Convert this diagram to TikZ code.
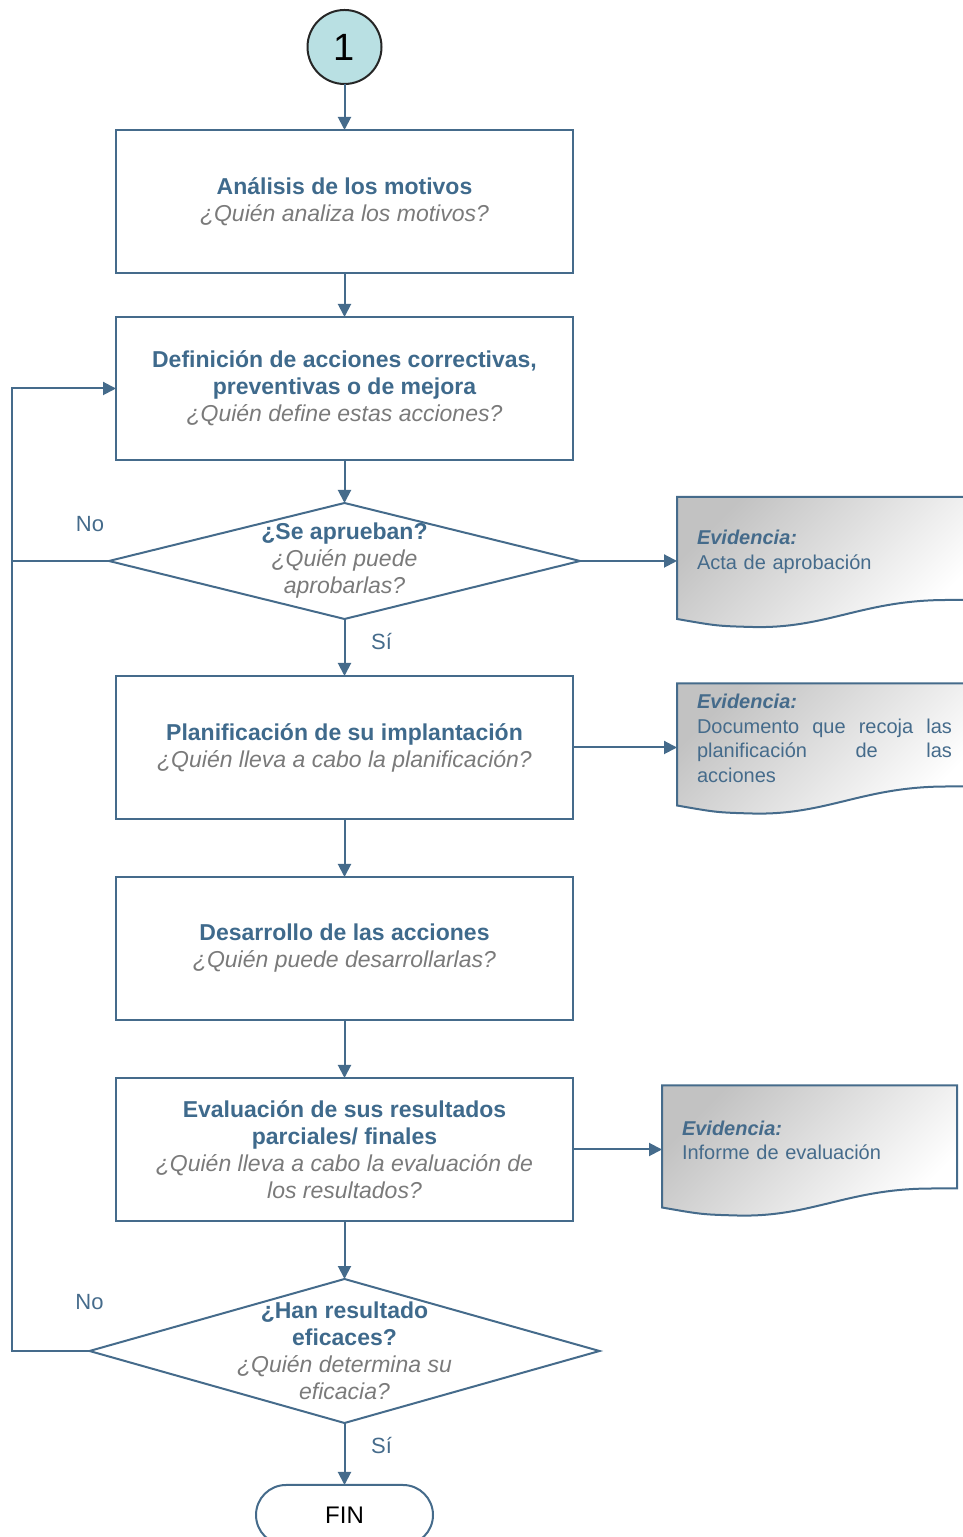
\documentclass[tikz,border=0pt]{standalone}
\usepackage{fontspec}
\setmainfont{Liberation Sans}
\usetikzlibrary{positioning,shapes.geometric,arrows.meta,calc,backgrounds}

\definecolor{lineablue}{HTML}{456B8B}
\definecolor{titblue}{HTML}{3F6A8C}
\definecolor{grisq}{HTML}{7A7A7A}
\definecolor{circfill}{HTML}{B9E0E3}

\newcommand{\tit}[1]{{\color{titblue}\bfseries #1}}
\newcommand{\quien}[1]{{\color{grisq}\itshape #1}}
\newcommand{\hojaev}[1]{%
  \path[hoja] (#1.north west) -- (#1.north east) -- ([yshift=7pt]#1.south east)
    -- ([xshift=-25pt,yshift=7pt]#1.south east)
    .. controls ([xshift=-110pt,yshift=7pt]#1.south east) and ([xshift=150pt,yshift=-22pt]#1.south west) .. ([xshift=75pt,yshift=-20pt]#1.south west)
    .. controls ([xshift=40pt,yshift=-19pt]#1.south west) .. ([yshift=-12pt]#1.south west) -- cycle;}

\begin{document}
\begin{tikzpicture}[x=1pt, y=1pt, outer sep=0pt,
	linea/.style={draw=lineablue, line width=2pt},
	flecha/.style={linea, -{Triangle[length=13pt,width=13pt]}},
	caja/.style={rectangle, draw=lineablue, line width=2pt, minimum width=457pt, minimum height=143pt, align=center, font=\fontsize{23}{27}\selectfont},
	decision/.style={diamond, draw=lineablue, line width=2pt, aspect=3.8, inner sep=-14pt, align=center, font=\fontsize{23}{27}\selectfont},
	evidencia/.style={rectangle, text width=255pt, inner xsep=20pt, inner ysep=0pt, minimum height=110pt, align=left, text=lineablue, font=\fontsize{20}{24.5}\selectfont, yshift=9pt},
	hoja/.style={draw=lineablue, line width=2pt, top color=black!24, middle color=black!9, bottom color=white, shading angle=45},
	etiq/.style={text=lineablue, font=\fontsize{22}{26}\selectfont},
	inicio/.style={circle, draw=black!85, line width=2pt, fill=circfill, minimum size=74pt, inner sep=0pt, font=\fontsize{38}{40}\selectfont},
	final/.style={rectangle, rounded corners=30pt, draw=lineablue, line width=2pt, minimum width=177pt, minimum height=60pt, font=\fontsize{24}{28}\selectfont},
	]
	\useasboundingbox (0,0) rectangle (962,1537);
	\clip (0,0) rectangle (962,1537);
	%Nodes
	\node[inicio]     (c1)   at (344.5,1490)         {1};
	\node[caja]       (b1)   [below=46pt of c1]      {\tit{Análisis de los motivos}\\\quien{¿Quién analiza los motivos?}};
	\node[caja]       (b2)   [below=44pt of b1]      {\tit{Definición de acciones correctivas,}\\\tit{preventivas o de mejora}\\\quien{¿Quién define estas acciones?}};
	\node[decision, minimum width=471pt, minimum height=116pt] (q1) [below=43pt of b2] {\tit{¿Se aprueban?}\\\quien{¿Quién puede}\\\quien{aprobarlas?}};
	\node[caja]       (b3)   [below=57pt of q1]      {\tit{Planificación de su implantación}\\\quien{¿Quién lleva a cabo la planificación?}};
	\node[caja]       (b4)   [below=58pt of b3]      {\tit{Desarrollo de las acciones}\\\quien{¿Quién puede desarrollarlas?}};
	\node[caja]       (b5)   [below=58pt of b4]      {\tit{Evaluación de sus resultados}\\\tit{parciales/ finales}\\\quien{¿Quién lleva a cabo la evaluación de}\\\quien{los resultados?}};
	\node[decision, minimum width=510pt, minimum height=144pt, aspect=3.5] (q2) [below=58pt of b5] {\tit{¿Han resultado}\\\tit{eficaces?}\\\quien{¿Quién determina su}\\\quien{eficacia?}};
	\node[final]      (fin)  [below=62pt of q2]      {FIN};
	
	%Evidences
	\node[evidencia]  (ev1)  [right=97pt of q1]      {\textbf{\textit{Evidencia:}}\\Acta de aprobación};
	\node[evidencia, align=justify] (ev2) [right=104pt of b3] {\textbf{\textit{Evidencia:}}\\Documento que recoja las\linebreak planificación de las\linebreak acciones};
	\node[evidencia]  (ev3)  [right=89pt of b5]      {\textbf{\textit{Evidencia:}}\\Informe de evaluación};
	\begin{scope}[on background layer]
		\hojaev{ev1}
		\hojaev{ev2}
		\hojaev{ev3}
	\end{scope}
	
	%Labels
	\node[etiq]       (no1)  at ($(q1.west)+(-19,37)$)   {No};
	\node[etiq]       (si1)  at ($(q1.south)+(37,-23)$)  {Sí};
	\node[etiq]       (no2)  at ($(q2.west)+(0,49)$)     {No};
	\node[etiq]       (si2)  at ($(q2.south)+(37,-23)$)  {Sí};
	\coordinate       (lx)   at (12,0);
	
	%Lines
	\draw[flecha] (c1) -- (b1);
	\draw[flecha] (b1) -- (b2);
	\draw[flecha] (b2) -- (q1);
	\draw[flecha] (q1) -- (b3);
	\draw[flecha] (b3) -- (b4);
	\draw[flecha] (b4) -- (b5);
	\draw[flecha] (b5) -- (q2);
	\draw[flecha] (q2) -- (fin);
	\draw[flecha] (q1.east) -- (q1.east -| ev1.west);
	\draw[flecha] (b3.east) -- (b3.east -| ev2.west);
	\draw[flecha] (b5.east) -- (b5.east -| ev3.west);
	\draw[linea]  (q1.west) -- (q1.west -| lx);
	\draw[flecha] (q2.west) -| (lx |- b2.west) -- (b2.west);
\end{tikzpicture}
\end{document}
